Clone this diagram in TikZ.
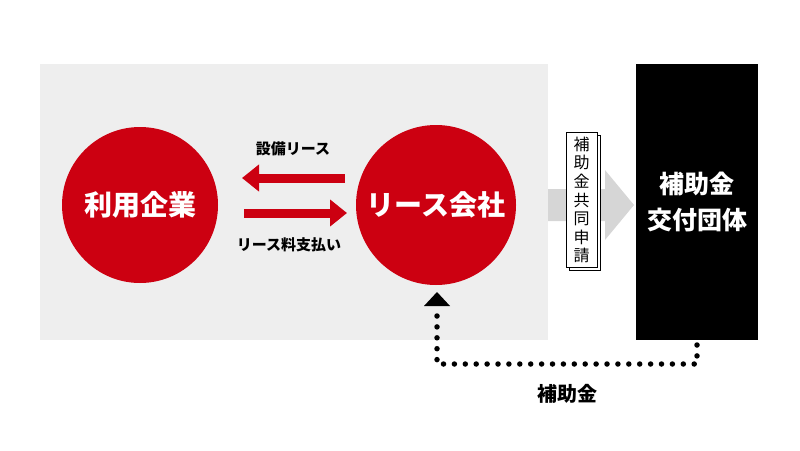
\documentclass[tikz,border=0pt]{standalone}
\usepackage{fontspec}
\setmainfont{Noto Sans CJK JP}
\usetikzlibrary{arrows.meta}
\definecolor{cred}{HTML}{CC0011}
\definecolor{bggray}{HTML}{EEEEEE}
\definecolor{arrgray}{HTML}{D6D6D6}
\tikzset{
  circ/.style={circle,fill=cred,minimum size=#1,inner sep=0pt,text=white,font=\fontsize{28}{30}\selectfont\bfseries},
  redarrow/.style={draw=cred,line width=9pt,-{Triangle[length=17pt,width=26pt]}},
  lbl/.style={font=\fontsize{15}{17}\selectfont\bfseries},
  dots/.style={line width=5.5pt,line cap=round,dash pattern=on 0pt off 10.9pt},
}
\begin{document}
\begin{tikzpicture}[x=1pt,y=-1pt]
\useasboundingbox (0,0) rectangle (800,450);
\fill[bggray] (40,64) rectangle (548,340);
\node[circ=156pt] (user) at (140,205) {利用企業};
\node[circ=160pt] (lease) at (436,205) {リース会社};
\coordinate (a1s) at (345,178);
\coordinate (a1e) at (242,178);
\coordinate (a2s) at (244,213);
\coordinate (a2e) at (347,213);
\draw[redarrow] (a1s) -- (a1e);
\draw[redarrow] (a2s) -- (a2e);
\node[lbl] (l1) at (293,149) {設備リース};
\node[lbl] (l2) at (289,245) {リース料支払い};
% big gray arrow
\fill[arrgray] (548,189) -- (605,189) -- (605,170) -- (634,205) -- (605,240) -- (605,221) -- (548,221) -- cycle;
% document
\fill[white,draw=black,line width=0.8pt] (569,135) rectangle (600,270);
\node[draw=black,fill=white,line width=0.8pt,minimum width=31pt,minimum height=135pt,inner sep=0pt,align=center,font=\fontsize{16}{18.6}\selectfont] (doc) at (581.5,200) {補\\助\\金\\共\\同\\申\\請};
% black box
\node[fill=black,minimum width=122pt,minimum height=276pt,inner sep=0pt,align=center,text=white,font=\fontsize{25}{36}\selectfont\bfseries] (gov) at (697,202) {補助金\\交付団体};
% dotted return
\coordinate (d0) at (697,345);
\coordinate (d1) at (697,364);
\coordinate (d2) at (437,364);
\coordinate (d3) at (437,312);
\draw[dots] (d0) -- (d1) -- (d2) -- (d3);
\fill (424,306) -- (450,306) -- (437,292) -- cycle;
\node[font=\fontsize{20}{24}\selectfont\bfseries] (sub) at (567,394) {補助金};
\end{tikzpicture}
\end{document}
